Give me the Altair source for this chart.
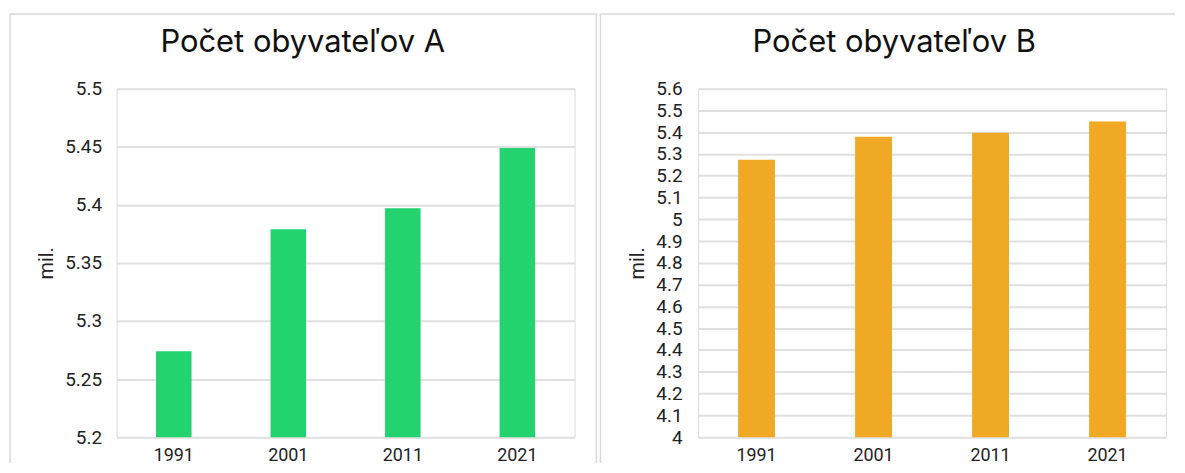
import altair as alt
import pandas as pd

# ---- data ----
years = ["1991", "2001", "2011", "2021"]
population_a = [5.274, 5.379, 5.397, 5.449]
population_b = [5.274, 5.379, 5.397, 5.449]
ticks_a = [5.2, 5.25, 5.3, 5.35, 5.4, 5.45, 5.5]
ticks_b = [4.0, 4.1, 4.2, 4.3, 4.4, 4.5, 4.6, 4.7, 4.8, 4.9, 5.0,
           5.1, 5.2, 5.3, 5.4, 5.5, 5.6]
domain_a = [5.2, 5.5]
domain_b = [4.0, 5.6]
title_a = "Počet obyvateľov A"
title_b = "Počet obyvateľov B"
unit = "mil."

H = 350
BORDER = "#d9d9d9"
GRID = "#e0e0e0"
LABEL = "#222222"
one = pd.DataFrame({"k": [0]})


def vline(x, y1, y2):
    return alt.Chart(one).mark_rule(color=BORDER, strokeWidth=1.5).encode(
        x=alt.value(x), y=alt.value(y1), y2=alt.value(y2))


def hline(x1, x2, y):
    return alt.Chart(one).mark_rule(color=BORDER, strokeWidth=1.5).encode(
        x=alt.value(x1), x2=alt.value(x2), y=alt.value(y))


def panel(values, ticks, domain, color, title, width, left, right, right_line,
          label_pad, unit_x, title_x, pad_inner):
    df = pd.DataFrame({"year": years, "value": values})
    bars = alt.Chart(df).mark_bar(color=color, clip=True).encode(
        x=alt.X("year:N", sort=years, title=None,
                scale=alt.Scale(paddingInner=pad_inner, paddingOuter=pad_inner / 2),
                axis=alt.Axis(labelAngle=0, ticks=False, domain=False,
                              labelPadding=9, labelFontSize=18,
                              labelColor=LABEL, labelFont="Roboto", grid=False)),
        y=alt.Y("value:Q",
                scale=alt.Scale(domain=domain, zero=False, nice=False),
                axis=alt.Axis(values=ticks, format="~g", title=unit,
                              ticks=False, domain=False, labelPadding=label_pad,
                              labelFontSize=19, labelFont="Roboto",
                              labelColor=LABEL, gridColor=GRID, gridWidth=2,
                              titleFont="Roboto", titleFontSize=20,
                              titleFontWeight="normal", titleColor=LABEL,
                              titleX=unit_x, titleY=H / 2, titleAngle=270,
                              titleAlign="center", titleBaseline="middle")),
    )
    head = alt.Chart(one).mark_text(
        text=title, font="Inter", fontSize=31, color="#111111",
        align="center", baseline="alphabetic").encode(
        x=alt.value(title_x), y=alt.value(-37))
    layers = [hline(left, right, -75), vline(left, -75, 376)]
    if right_line:
        layers.append(vline(right, -75, 376))
    return alt.layer(*layers, bars, head).properties(width=width, height=H)


pa = panel(population_a, ticks_a, domain_a, "#22d36f", title_a, 460,
           -107, 482, True, 15, -70, 187, 0.69)
pb = panel(population_b, ticks_b, domain_b, "#f0a924", title_b, 470,
           -98, 479, False, 16, -61, 197, 0.685)

chart = alt.hconcat(pa, pb, spacing=0).properties(
    padding={"left": 0, "top": 3, "right": 0, "bottom": 0}
).configure_view(stroke=None).configure(background="white")

chart.save("out.html", embed_options={"renderer": "svg", "actions": False})
